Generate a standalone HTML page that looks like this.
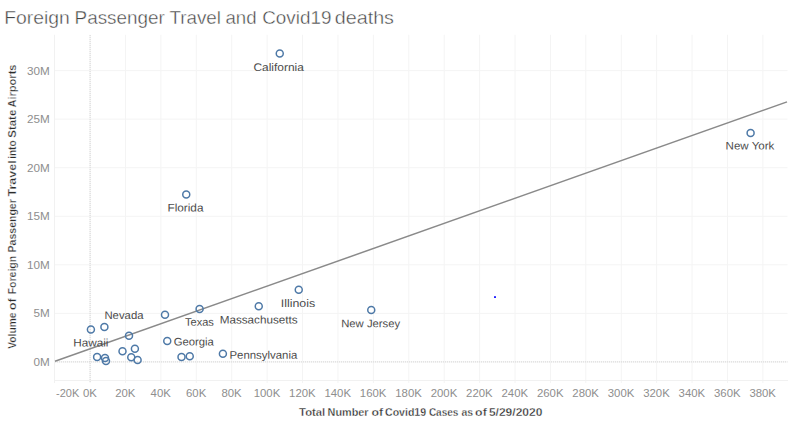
<!DOCTYPE html>
<html><head><meta charset="utf-8"><title>Foreign Passenger Travel and Covid19 deaths</title>
<style>
html,body{margin:0;padding:0;background:#fff;}
body{width:800px;height:424px;overflow:hidden;font-family:"Liberation Sans", sans-serif;}
svg{display:block;position:absolute;left:0;top:0;}
text{font-family:"Liberation Sans", sans-serif;}
.tick{font-size:10.4px;fill:#8e8e8e;}
.lab{font-size:11px;fill:#4c4c4c;}
.axt{font-size:10.3px;font-weight:bold;fill:#2b2b2b;stroke:#fff;stroke-width:0.3px;}
.ttl{font-size:19px;fill:#454545;stroke:#fff;stroke-width:0.42px;}
</style></head><body>
<svg width="800" height="424" viewBox="0 0 800 424">
<rect x="0" y="0" width="800" height="424" fill="#ffffff"/>
<text class="ttl" x="4.20" y="23.6" textLength="65.70" lengthAdjust="spacingAndGlyphs">Foreign</text>
<text class="ttl" x="74.60" y="23.6" textLength="90.20" lengthAdjust="spacingAndGlyphs">Passenger</text>
<text class="ttl" x="169.40" y="23.6" textLength="51.60" lengthAdjust="spacingAndGlyphs">Travel</text>
<text class="ttl" x="225.50" y="23.6" textLength="31.10" lengthAdjust="spacingAndGlyphs">and</text>
<text class="ttl" x="262.20" y="23.6" textLength="69.20" lengthAdjust="spacingAndGlyphs">Covid19</text>
<text class="ttl" x="334.70" y="23.6" textLength="59.30" lengthAdjust="spacingAndGlyphs">deaths</text>
<g stroke="#f4f4f4" stroke-width="1">
<line x1="125.51" y1="34.75" x2="125.51" y2="383.00"/>
<line x1="160.92" y1="34.75" x2="160.92" y2="383.00"/>
<line x1="196.33" y1="34.75" x2="196.33" y2="383.00"/>
<line x1="231.74" y1="34.75" x2="231.74" y2="383.00"/>
<line x1="267.15" y1="34.75" x2="267.15" y2="383.00"/>
<line x1="302.56" y1="34.75" x2="302.56" y2="383.00"/>
<line x1="337.97" y1="34.75" x2="337.97" y2="383.00"/>
<line x1="373.38" y1="34.75" x2="373.38" y2="383.00"/>
<line x1="408.79" y1="34.75" x2="408.79" y2="383.00"/>
<line x1="444.20" y1="34.75" x2="444.20" y2="383.00"/>
<line x1="479.61" y1="34.75" x2="479.61" y2="383.00"/>
<line x1="515.02" y1="34.75" x2="515.02" y2="383.00"/>
<line x1="550.43" y1="34.75" x2="550.43" y2="383.00"/>
<line x1="585.84" y1="34.75" x2="585.84" y2="383.00"/>
<line x1="621.25" y1="34.75" x2="621.25" y2="383.00"/>
<line x1="656.66" y1="34.75" x2="656.66" y2="383.00"/>
<line x1="692.07" y1="34.75" x2="692.07" y2="383.00"/>
<line x1="727.48" y1="34.75" x2="727.48" y2="383.00"/>
<line x1="762.89" y1="34.75" x2="762.89" y2="383.00"/>
<line x1="54.50" y1="313.35" x2="787.50" y2="313.35"/>
<line x1="54.50" y1="264.80" x2="787.50" y2="264.80"/>
<line x1="54.50" y1="216.25" x2="787.50" y2="216.25"/>
<line x1="54.50" y1="167.70" x2="787.50" y2="167.70"/>
<line x1="54.50" y1="119.15" x2="787.50" y2="119.15"/>
<line x1="54.50" y1="70.60" x2="787.50" y2="70.60"/>
</g>
<g stroke="#f1f1f1" stroke-width="1">
<line x1="54.50" y1="34.75" x2="54.50" y2="383.00"/>
<line x1="54.50" y1="380.50" x2="788.00" y2="380.50"/>
</g>
<g stroke="#f3f3f3" stroke-width="1">
<line x1="90.10" y1="34.75" x2="90.10" y2="383.00"/>
<line x1="54.50" y1="361.90" x2="787.50" y2="361.90"/>
</g>
<g stroke="#d6d6d6" stroke-width="1" stroke-dasharray="1 1">
<line x1="90.10" y1="35.00" x2="90.10" y2="383.00"/>
<line x1="55.00" y1="361.90" x2="787.50" y2="361.90"/>
</g>
<line x1="55" y1="361.3" x2="787" y2="101.9" stroke="#8a8a8a" stroke-width="1.5"/>
<g fill="none" stroke="#4e79a7" stroke-width="1.5">
<circle cx="90.90" cy="329.50" r="3.5"/>
<circle cx="104.40" cy="326.90" r="3.5"/>
<circle cx="129.00" cy="335.80" r="3.5"/>
<circle cx="97.10" cy="356.90" r="3.5"/>
<circle cx="105.00" cy="358.10" r="3.5"/>
<circle cx="106.00" cy="361.00" r="3.5"/>
<circle cx="122.50" cy="351.25" r="3.5"/>
<circle cx="134.90" cy="348.75" r="3.5"/>
<circle cx="131.25" cy="357.25" r="3.5"/>
<circle cx="137.60" cy="360.00" r="3.5"/>
<circle cx="165.00" cy="314.75" r="3.5"/>
<circle cx="199.60" cy="309.10" r="3.5"/>
<circle cx="167.25" cy="341.00" r="3.5"/>
<circle cx="181.50" cy="356.90" r="3.5"/>
<circle cx="189.75" cy="356.25" r="3.5"/>
<circle cx="222.90" cy="353.75" r="3.5"/>
<circle cx="258.75" cy="306.25" r="3.5"/>
<circle cx="298.75" cy="289.75" r="3.5"/>
<circle cx="371.25" cy="310.00" r="3.5"/>
<circle cx="750.60" cy="132.90" r="3.5"/>
<circle cx="279.75" cy="53.50" r="3.5"/>
<circle cx="186.25" cy="194.40" r="3.5"/>
</g>
<rect x="494" y="296.2" width="2" height="1.8" fill="#2222ff"/>
<text class="lab" x="104.45" y="319.05" transform="rotate(0.03 104.45 319.05)" textLength="39.05" lengthAdjust="spacingAndGlyphs">Nevada</text>
<text class="lab" x="73.20" y="346.55" transform="rotate(0.03 73.20 346.55)" textLength="35.30" lengthAdjust="spacingAndGlyphs">Hawaii</text>
<text class="lab" x="185.10" y="325.70" transform="rotate(0.03 185.10 325.70)" textLength="28.80" lengthAdjust="spacingAndGlyphs">Texas</text>
<text class="lab" x="173.70" y="345.55" transform="rotate(0.03 173.70 345.55)" textLength="40.20" lengthAdjust="spacingAndGlyphs">Georgia</text>
<text class="lab" x="219.70" y="323.40" transform="rotate(0.03 219.70 323.40)" textLength="77.95" lengthAdjust="spacingAndGlyphs">Massachusetts</text>
<text class="lab" x="280.70" y="306.90" transform="rotate(0.03 280.70 306.90)" textLength="34.45" lengthAdjust="spacingAndGlyphs">Illinois</text>
<text class="lab" x="341.20" y="327.20" transform="rotate(0.03 341.20 327.20)" textLength="58.95" lengthAdjust="spacingAndGlyphs">New Jersey</text>
<text class="lab" x="725.60" y="149.40" transform="rotate(0.03 725.60 149.40)" textLength="48.80" lengthAdjust="spacingAndGlyphs">New York</text>
<text class="lab" x="253.45" y="70.90" transform="rotate(0.03 253.45 70.90)" textLength="50.45" lengthAdjust="spacingAndGlyphs">California</text>
<text class="lab" x="167.45" y="211.55" transform="rotate(0.03 167.45 211.55)" textLength="36.05" lengthAdjust="spacingAndGlyphs">Florida</text>
<text class="lab" x="229.45" y="358.80" transform="rotate(0.03 229.45 358.80)" textLength="67.85" lengthAdjust="spacingAndGlyphs">Pennsylvania</text>
<text class="tick" x="33.48" y="365.75" textLength="16.27" lengthAdjust="spacingAndGlyphs">0M</text>
<text class="tick" x="33.48" y="317.20" textLength="16.27" lengthAdjust="spacingAndGlyphs">5M</text>
<text class="tick" x="26.96" y="268.65" textLength="22.79" lengthAdjust="spacingAndGlyphs">10M</text>
<text class="tick" x="26.96" y="220.10" textLength="22.79" lengthAdjust="spacingAndGlyphs">15M</text>
<text class="tick" x="26.96" y="171.55" textLength="22.79" lengthAdjust="spacingAndGlyphs">20M</text>
<text class="tick" x="26.96" y="123.00" textLength="22.79" lengthAdjust="spacingAndGlyphs">25M</text>
<text class="tick" x="26.96" y="74.85" textLength="22.79" lengthAdjust="spacingAndGlyphs">30M</text>
<text class="tick" x="56.0" y="396.60" textLength="23.23" lengthAdjust="spacingAndGlyphs">-20K</text>
<text class="tick" x="82.94" y="396.60" textLength="13.92" lengthAdjust="spacingAndGlyphs">0K</text>
<text class="tick" x="115.18" y="396.60" textLength="20.25" lengthAdjust="spacingAndGlyphs">20K</text>
<text class="tick" x="150.59" y="396.60" textLength="20.25" lengthAdjust="spacingAndGlyphs">40K</text>
<text class="tick" x="186.00" y="396.60" textLength="20.25" lengthAdjust="spacingAndGlyphs">60K</text>
<text class="tick" x="221.41" y="396.60" textLength="20.25" lengthAdjust="spacingAndGlyphs">80K</text>
<text class="tick" x="253.66" y="396.60" textLength="26.58" lengthAdjust="spacingAndGlyphs">100K</text>
<text class="tick" x="289.07" y="396.60" textLength="26.58" lengthAdjust="spacingAndGlyphs">120K</text>
<text class="tick" x="324.48" y="396.60" textLength="26.58" lengthAdjust="spacingAndGlyphs">140K</text>
<text class="tick" x="359.89" y="396.60" textLength="26.58" lengthAdjust="spacingAndGlyphs">160K</text>
<text class="tick" x="395.30" y="396.60" textLength="26.58" lengthAdjust="spacingAndGlyphs">180K</text>
<text class="tick" x="430.71" y="396.60" textLength="26.58" lengthAdjust="spacingAndGlyphs">200K</text>
<text class="tick" x="466.12" y="396.60" textLength="26.58" lengthAdjust="spacingAndGlyphs">220K</text>
<text class="tick" x="501.53" y="396.60" textLength="26.58" lengthAdjust="spacingAndGlyphs">240K</text>
<text class="tick" x="536.94" y="396.60" textLength="26.58" lengthAdjust="spacingAndGlyphs">260K</text>
<text class="tick" x="572.35" y="396.60" textLength="26.58" lengthAdjust="spacingAndGlyphs">280K</text>
<text class="tick" x="607.76" y="396.60" textLength="26.58" lengthAdjust="spacingAndGlyphs">300K</text>
<text class="tick" x="643.17" y="396.60" textLength="26.58" lengthAdjust="spacingAndGlyphs">320K</text>
<text class="tick" x="678.58" y="396.60" textLength="26.58" lengthAdjust="spacingAndGlyphs">340K</text>
<text class="tick" x="713.99" y="396.60" textLength="26.58" lengthAdjust="spacingAndGlyphs">360K</text>
<text class="tick" x="749.40" y="396.60" textLength="26.58" lengthAdjust="spacingAndGlyphs">380K</text>
<text class="axt" x="299.10" y="415.5" textLength="26.15" lengthAdjust="spacingAndGlyphs">Total</text>
<text class="axt" x="327.60" y="415.5" textLength="41.00" lengthAdjust="spacingAndGlyphs">Number</text>
<text class="axt" x="371.40" y="415.5" textLength="11.60" lengthAdjust="spacingAndGlyphs">of</text>
<text class="axt" x="385.00" y="415.5" textLength="41.10" lengthAdjust="spacingAndGlyphs">Covid19</text>
<text class="axt" x="428.90" y="415.5" textLength="29.50" lengthAdjust="spacingAndGlyphs">Cases</text>
<text class="axt" x="461.40" y="415.5" textLength="11.60" lengthAdjust="spacingAndGlyphs">as</text>
<text class="axt" x="475.10" y="415.5" textLength="11.65" lengthAdjust="spacingAndGlyphs">of</text>
<text class="axt" x="488.90" y="415.5" textLength="53.50" lengthAdjust="spacingAndGlyphs">5/29/2020</text>
<text class="axt" transform="translate(16.1,348.70) rotate(-90)" x="0" y="0" textLength="36.20" lengthAdjust="spacingAndGlyphs">Volume</text>
<text class="axt" transform="translate(16.1,310.30) rotate(-90)" x="0" y="0" textLength="12.10" lengthAdjust="spacingAndGlyphs">of</text>
<text class="axt" transform="translate(16.1,294.30) rotate(-90)" x="0" y="0" textLength="38.50" lengthAdjust="spacingAndGlyphs">Foreign</text>
<text class="axt" transform="translate(16.1,252.40) rotate(-90)" x="0" y="0" textLength="53.20" lengthAdjust="spacingAndGlyphs">Passenger</text>
<text class="axt" transform="translate(16.1,196.40) rotate(-90)" x="0" y="0" textLength="36.00" lengthAdjust="spacingAndGlyphs">Travel</text>
<text class="axt" transform="translate(16.1,158.70) rotate(-90)" x="0" y="0" textLength="18.20" lengthAdjust="spacingAndGlyphs">into</text>
<text class="axt" transform="translate(16.1,137.70) rotate(-90)" x="0" y="0" textLength="28.00" lengthAdjust="spacingAndGlyphs">State</text>
<text class="axt" transform="translate(16.1,107.50) rotate(-90)" x="0" y="0" textLength="43.00" lengthAdjust="spacingAndGlyphs">Airports</text>
</svg>
</body></html>
